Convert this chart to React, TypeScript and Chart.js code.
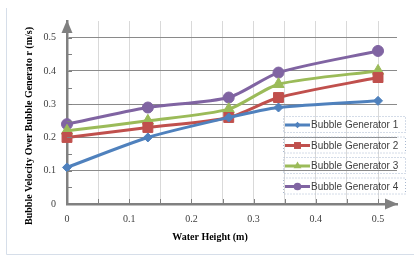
import React, { useEffect, useRef } from 'react';
import { Chart, registerables } from 'chart.js';

Chart.register(...registerables);

const waterHeight = [0, 0.13, 0.26, 0.34, 0.5];
const generator1 = [0.11, 0.2, 0.26, 0.29, 0.31];
const generator2 = [0.2, 0.23, 0.26, 0.32, 0.38];
const generator3 = [0.22, 0.25, 0.285, 0.36, 0.4];
const generator4 = [0.24, 0.29, 0.32, 0.395, 0.46];
const seriesNames = ['Bubble Generator 1', 'Bubble Generator 2', 'Bubble Generator 3', 'Bubble Generator 4'];
const seriesColors = ['#4F81BD', '#C0504D', '#9BBB59', '#8064A2'];
const seriesMarkers = ['rectRot', 'rect', 'triangle', 'circle'];
const seriesRadius = [4.5, 7, 6.5, 5.5];
const xTickLabels = ['0', '0.1', '0.2', '0.3', '0.4', '0.5'];
const yTickLabels = ['0', '0.1', '0.2', '0.3', '0.4', '0.5'];
const xTitle = 'Water Height (m)';
const yTitle = 'Bubble Velocity Over Bubble Generato r (m/s)';

const allSeries = [generator1, generator2, generator3, generator4];

function isTenth(v: number) {
  return Math.abs(v * 10 - Math.round(v * 10)) < 1e-6;
}

function drawMarker(ctx: CanvasRenderingContext2D, style: string, x: number, y: number, r: number) {
  ctx.beginPath();
  if (style === 'circle') {
    ctx.arc(x, y, r, 0, Math.PI * 2);
  } else if (style === 'rect') {
    const s = Math.SQRT1_2 * r;
    ctx.rect(x - s, y - s, 2 * s, 2 * s);
  } else if (style === 'rectRot') {
    ctx.moveTo(x - r, y);
    ctx.lineTo(x, y - r);
    ctx.lineTo(x + r, y);
    ctx.lineTo(x, y + r);
    ctx.closePath();
  } else if (style === 'triangle') {
    const a = Math.PI / 2;
    ctx.moveTo(x + Math.cos(-a) * r, y + Math.sin(-a) * r);
    ctx.lineTo(x + Math.cos(-a + (2 * Math.PI) / 3) * r, y + Math.sin(-a + (2 * Math.PI) / 3) * r);
    ctx.lineTo(x + Math.cos(-a + (4 * Math.PI) / 3) * r, y + Math.sin(-a + (4 * Math.PI) / 3) * r);
    ctx.closePath();
  }
  ctx.fill();
}

const decorPlugin = {
  id: 'decor',
  beforeDraw(chart: any) {
    const ctx = chart.ctx as CanvasRenderingContext2D;
    ctx.save();
    ctx.strokeStyle = '#d6dee9';
    ctx.lineWidth = 1;
    ctx.beginPath();
    ctx.moveTo(6.5, 8);
    ctx.lineTo(6.5, 254.5);
    ctx.lineTo(414, 254.5);
    ctx.stroke();
    ctx.restore();
  },
  afterDatasetsDraw(chart: any) {
    const ctx = chart.ctx as CanvasRenderingContext2D;
    const xs = chart.scales.x;
    const ys = chart.scales.y;
    const area = chart.chartArea;
    const x0 = xs.getPixelForValue(0);
    const y0 = ys.getPixelForValue(0);
    ctx.save();
    // inside tick marks
    ctx.strokeStyle = '#808080';
    ctx.lineWidth = 1;
    ys.ticks.forEach((t: any) => {
      const py = Math.round(ys.getPixelForValue(t.value)) + 0.5;
      ctx.beginPath();
      ctx.moveTo(x0, py);
      ctx.lineTo(x0 + 5, py);
      ctx.stroke();
    });
    xs.ticks.forEach((t: any) => {
      const px = Math.round(xs.getPixelForValue(t.value)) + 0.5;
      ctx.beginPath();
      ctx.moveTo(px, y0);
      ctx.lineTo(px, y0 - 5);
      ctx.stroke();
    });
    // arrowheads
    ctx.fillStyle = '#808080';
    ctx.beginPath();
    ctx.moveTo(x0, area.top - 1);
    ctx.lineTo(x0 - 5.5, area.top + 12);
    ctx.lineTo(x0 + 5.5, area.top + 12);
    ctx.closePath();
    ctx.fill();
    ctx.beginPath();
    ctx.moveTo(area.right + 1, y0);
    ctx.lineTo(area.right - 12, y0 - 5.5);
    ctx.lineTo(area.right - 12, y0 + 5.5);
    ctx.closePath();
    ctx.fill();
    ctx.restore();
  },
  afterDraw(chart: any) {
    const ctx = chart.ctx as CanvasRenderingContext2D;
    ctx.save();
    // axis titles
    ctx.fillStyle = '#000000';
    ctx.font = 'bold 10px "Liberation Serif"';
    ctx.textAlign = 'center';
    ctx.textBaseline = 'middle';
    ctx.fillText(xTitle, 210, 237);
    ctx.save();
    ctx.translate(29, 126);
    ctx.rotate(-Math.PI / 2);
    ctx.fillText(yTitle, 0, 0);
    ctx.restore();
    // legend
    const rowY = [125, 145.5, 166, 186.5];
    ctx.font = '10px "Liberation Sans"';
    ctx.textAlign = 'left';
    ctx.textBaseline = 'middle';
    seriesNames.forEach((name, i) => {
      const y = rowY[i];
      ctx.save();
      ctx.strokeStyle = '#a9b9d0';
      ctx.setLineDash([1, 2]);
      ctx.lineWidth = 1;
      ctx.strokeRect(283.5, y - 8.5, 122, 16);
      ctx.restore();
      ctx.strokeStyle = seriesColors[i];
      ctx.lineWidth = 3;
      ctx.beginPath();
      ctx.moveTo(285, y);
      ctx.lineTo(310, y);
      ctx.stroke();
      ctx.fillStyle = seriesColors[i];
      drawMarker(ctx, seriesMarkers[i], 297.5, y, seriesRadius[i] * 0.7);
      ctx.fillStyle = '#404040';
      ctx.fillText(name, 311, y + 0.5);
    });
    ctx.restore();
  },
};

export default function App() {
  const canvasRef = useRef<HTMLCanvasElement | null>(null);

  useEffect(() => {
    if (!canvasRef.current) return;
    const chart = new Chart(canvasRef.current, {
      type: 'line',
      data: {
        datasets: allSeries.map((vals, i) => ({
          label: seriesNames[i],
          data: vals.map((v, j) => ({ x: waterHeight[j], y: v })),
          borderColor: seriesColors[i],
          backgroundColor: seriesColors[i],
          borderWidth: 3,
          pointStyle: seriesMarkers[i] as any,
          pointRadius: seriesRadius[i],
          pointBorderWidth: 1,
          pointBorderColor: seriesColors[i],
          pointBackgroundColor: seriesColors[i],
          tension: 0.25,
          clip: false as any,
        })),
      },
      options: {
        responsive: false,
        animation: false,
        layout: { padding: { top: 21, right: 17, left: 0, bottom: 0 } },
        plugins: {
          legend: { display: false },
          tooltip: { enabled: false },
        },
        scales: {
          x: {
            type: 'linear',
            min: 0,
            max: 0.5305,
            afterFit: (s: any) => {
              s.height = 52;
            },
            afterBuildTicks: (s: any) => {
              s.ticks = s.ticks.filter((t: any) => t.value <= 0.5001);
            },
            ticks: {
              stepSize: 0.05,
              includeBounds: false,
              autoSkip: false,
              maxRotation: 0,
              padding: 9,
              color: '#404040',
              font: { family: '"Liberation Serif"', size: 10 },
              callback: (v: any) => {
                const n = Number(v);
                if (!isTenth(n)) return '';
                return xTickLabels[Math.round(n * 10)] ?? '';
              },
            },
            grid: {
              drawTicks: false,
              lineWidth: 1,
              color: (c: any) => (c.tick && c.tick.value > 0.001 ? '#d9d9d9' : 'rgba(0,0,0,0)'),
            },
            border: { display: true, color: '#808080', width: 2.5 },
          },
          y: {
            type: 'linear',
            min: 0,
            max: 0.55,
            afterFit: (s: any) => {
              s.width = 67;
            },
            afterBuildTicks: (s: any) => {
              s.ticks = s.ticks.filter((t: any) => t.value <= 0.5001);
            },
            ticks: {
              stepSize: 0.05,
              includeBounds: false,
              autoSkip: false,
              padding: 11,
              color: '#404040',
              font: { family: '"Liberation Serif"', size: 10 },
              callback: (v: any) => {
                const n = Number(v);
                if (!isTenth(n)) return '';
                return yTickLabels[Math.round(n * 10)] ?? '';
              },
            },
            grid: {
              drawTicks: false,
              lineWidth: 1,
              color: (c: any) =>
                c.tick && c.tick.value > 0.001 && isTenth(c.tick.value) ? '#8a8a8a' : 'rgba(0,0,0,0)',
            },
            border: { display: true, color: '#808080', width: 2.5 },
          },
        },
      },
      plugins: [decorPlugin],
    });
    return () => chart.destroy();
  }, []);

  return (
    <div style={{ position: 'absolute', left: 0, top: 0, width: 414, height: 256, background: '#ffffff' }}>
      <canvas ref={canvasRef} width={414} height={256} style={{ display: 'block' }} />
    </div>
  );
}
